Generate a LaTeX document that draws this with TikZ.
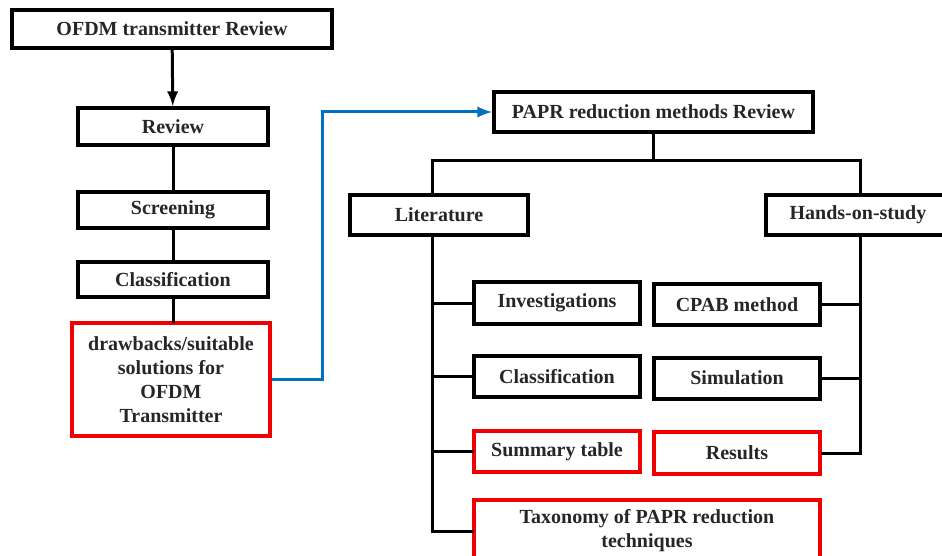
\documentclass[tikz,border=0pt]{standalone}
\usepackage{fontspec}
\setmainfont{Liberation Serif}
\usetikzlibrary{calc}
\tikzset{>=latex}
\definecolor{boxred}{RGB}{240,0,0}
\definecolor{flowblue}{RGB}{0,112,192}
\tikzset{
  box/.style={draw=black,line width=2pt,font=\bfseries,text=black!85,align=center,inner sep=0pt},
  redbox/.style={box,draw=boxred},
  link/.style={line width=1.5pt,line cap=rect},
}

\begin{document}
\begin{tikzpicture}[x=0.5pt,y=-0.5pt]
    \useasboundingbox (0,0) rectangle (942,556);
    % left column
    \node[box,minimum width=160pt,minimum height=19pt] (ofdm) at (172,29) {OFDM transmitter Review};
    \node[box,minimum width=95pt,minimum height=18.5pt] (rev) at (173,126.5) {Review};
    \node[box,minimum width=95pt,minimum height=18pt] (scr) at (173,210) {Screening};
    \node[box,minimum width=95pt,minimum height=17.5pt] (cla) at (173,279.5) {Classification};
    \node[redbox,minimum width=99pt,minimum height=56.5pt] (gaps) at (171,379.5) {drawbacks/suitable\\solutions for\\OFDM\\Transmitter};
    % right part
    \node[box,minimum width=159.5pt,minimum height=20pt] (papr) at (653.5,112) {PAPR reduction methods Review};
    \node[box,minimum width=89pt,minimum height=20pt] (lit) at (439,215) {Literature};
    \node[box,minimum width=92pt,minimum height=20pt] (hands) at (858,215) {Hands-on-study};
    \node[box,minimum width=83pt,minimum height=21pt] (inv) at (557,303) {Investigations};
    \node[box,minimum width=83pt,minimum height=20.5pt] (litcls) at (557,376.5) {Classification};
    \node[redbox,minimum width=83pt,minimum height=20.5pt] (sum) at (557,451.5) {Summary table};
    \node[redbox,minimum width=173pt,minimum height=31pt] (tax) at (647,531) {Taxonomy of PAPR reduction\\techniques};
    \node[box,minimum width=83pt,minimum height=20.5pt] (cpab) at (737,304.5) {CPAB method};
    \node[box,minimum width=83pt,minimum height=20.5pt] (sim) at (737,378) {Simulation};
    \node[redbox,minimum width=83pt,minimum height=21pt] (res) at (737,453) {Results};

    \draw[link,line cap=butt,->] (ofdm) -- (rev);
    \draw[link] (rev) -- (scr);
    \draw[link] (scr) -- (cla);
    \draw[link] (cla) -- (cla |- gaps.north);
    \draw[link,line cap=butt,flowblue,->] (gaps.east) -- ++(50,0) |- (papr.west);

    \coordinate (litbus) at (432,160);
    \coordinate (handsbus) at (860,160);
    \draw[link] (papr.south) -- (papr.south |- litbus);
    \draw[link] (litbus) -- (handsbus);
    \draw[link] (litbus) -- (litbus |- lit.north);
    \draw[link] (handsbus) -- (handsbus |- hands.north);
    \draw[link] (litbus |- lit.south) -- (litbus |- tax.west);
    \draw[link] (handsbus |- hands.south) -- (handsbus |- res.east);
    \foreach \n in {inv,litcls,sum,tax}
        \draw[link] (litbus |- \n.west) -- (\n.west);
    \foreach \n in {cpab,sim,res}
        \draw[link] (\n.east) -- (handsbus |- \n.east);
\end{tikzpicture}
\end{document}
